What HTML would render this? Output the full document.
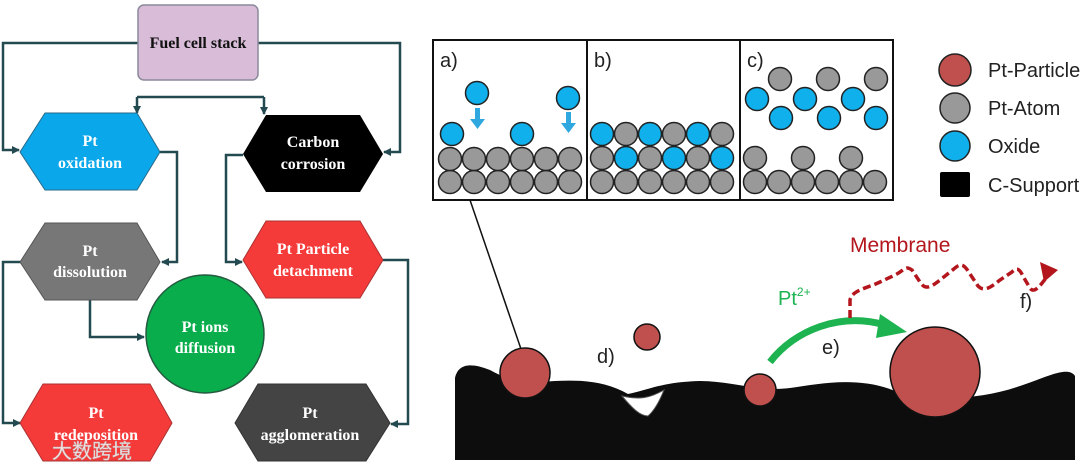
<!DOCTYPE html>
<html><head><meta charset="utf-8"><style>
html,body{margin:0;padding:0;background:#fff;}
svg{display:block}
.ft{font-family:"Liberation Serif",serif;font-weight:bold;font-size:16px;text-anchor:middle}
.st{font-family:"Liberation Sans",sans-serif;font-size:20px;fill:#222}
</style></head><body>
<svg width="1080" height="468" viewBox="0 0 1080 468" xmlns="http://www.w3.org/2000/svg">
<defs>
<marker id="ah" markerWidth="8" markerHeight="8" refX="7" refY="4" orient="auto" markerUnits="userSpaceOnUse"><path d="M0,0 L8,4 L0,8 Z" fill="#234a50"/></marker>
</defs>
<g stroke="#234a50" stroke-width="2.5" fill="none">
<path d="M138,43 H3 V150 H19" marker-end="url(#ah)"/>
<path d="M258,43 H400 V152 H384" marker-end="url(#ah)"/>
<path d="M137,97 H264"/>
<path d="M137,97 V113" marker-end="url(#ah)"/>
<path d="M264,97 V114" marker-end="url(#ah)"/>
<path d="M160,152 H177 V262 H162" marker-end="url(#ah)"/>
<path d="M243,155 H226 V262 H242" marker-end="url(#ah)"/>
<path d="M21,262 H3 V423 H20" marker-end="url(#ah)"/>
<path d="M90,300 V337 H144" marker-end="url(#ah)"/>
<path d="M383,260 H408 V424 H391" marker-end="url(#ah)"/>
</g>
<rect x="138" y="5" width="120" height="75" rx="6" fill="#d8bcd8" stroke="#8a8a9a" stroke-width="1.5"/>
<text x="198" y="48" class="ft" fill="#111">Fuel cell stack</text>
<polygon points="20,152 45,113 137,113 160,152 137,190 45,190" fill="#0aa7ea" stroke="#2a6a8a"/>
<text class="ft" fill="#fff" x="90" y="146">Pt</text><text class="ft" fill="#fff" x="90" y="168">oxidation</text>
<polygon points="243,154 266,115 360,115 383,154 360,192 266,192" fill="#000"/>
<text class="ft" fill="#fff" x="313" y="147">Carbon</text><text class="ft" fill="#fff" x="313" y="169">corrosion</text>
<polygon points="20,262 45,223 137,223 160,262 137,300 45,300" fill="#777" stroke="#555"/>
<text class="ft" fill="#fff" x="90" y="256">Pt</text><text class="ft" fill="#fff" x="90" y="277">dissolution</text>
<polygon points="243,260 266,221 360,221 383,260 360,298 266,298" fill="#f53a3a" stroke="#a33"/>
<text class="ft" fill="#fff" x="313" y="254">Pt Particle</text><text class="ft" fill="#fff" x="313" y="276">detachment</text>
<circle cx="205" cy="334" r="59" fill="#09ad4b" stroke="#245a40" stroke-width="1.5"/>
<text class="ft" fill="#fff" x="205" y="332">Pt ions</text><text class="ft" fill="#fff" x="205" y="353">diffusion</text>
<polygon points="20,423 43,384 150,384 172,423 150,461 43,461" fill="#f53a3a" stroke="#a33"/>
<text class="ft" fill="#fff" x="96" y="418">Pt</text><text class="ft" fill="#fff" x="96" y="440">redeposition</text>
<polygon points="235,423 258,384 366,384 390,423 366,461 258,461" fill="#444" stroke="#333"/>
<text class="ft" fill="#fff" x="310" y="418">Pt</text><text class="ft" fill="#fff" x="310" y="440">agglomeration</text>
<text x="52" y="458" font-family="Noto Sans CJK SC,sans-serif" font-size="20" fill="#fff" fill-opacity="0.85" stroke="#bbb" stroke-width="0.5">大数跨境</text>

<rect x="433" y="40" width="460" height="160" fill="#fff" stroke="#111" stroke-width="2"/>
<line x1="587" y1="40" x2="587" y2="200" stroke="#111" stroke-width="2"/>
<line x1="740" y1="40" x2="740" y2="200" stroke="#111" stroke-width="2"/>
<text class="st" x="440" y="67">a)</text><text class="st" x="594" y="67">b)</text><text class="st" x="747" y="67">c)</text>
<g stroke="#222" stroke-width="1.5">
<g fill="#999">
<circle cx="450" cy="182" r="11.5"/><circle cx="474" cy="182" r="11.5"/><circle cx="498" cy="182" r="11.5"/><circle cx="522" cy="182" r="11.5"/><circle cx="546" cy="182" r="11.5"/><circle cx="570" cy="182" r="11.5"/>
<circle cx="450" cy="159" r="11.5"/><circle cx="474" cy="159" r="11.5"/><circle cx="498" cy="159" r="11.5"/><circle cx="522" cy="159" r="11.5"/><circle cx="546" cy="159" r="11.5"/><circle cx="570" cy="159" r="11.5"/>
</g>
<g fill="#10b0ec">
<circle cx="452" cy="134" r="11.5"/><circle cx="522" cy="134" r="11.5"/><circle cx="477" cy="93" r="11.5"/><circle cx="568" cy="98" r="11.5"/>
</g>
<g fill="#999">
<circle cx="602" cy="182" r="11.5"/><circle cx="626" cy="182" r="11.5"/><circle cx="650" cy="182" r="11.5"/><circle cx="674" cy="182" r="11.5"/><circle cx="698" cy="182" r="11.5"/><circle cx="722" cy="182" r="11.5"/>
<circle cx="602" cy="158" r="11.5"/><circle cx="650" cy="158" r="11.5"/><circle cx="698" cy="158" r="11.5"/>
<circle cx="626" cy="134" r="11.5"/><circle cx="674" cy="134" r="11.5"/><circle cx="722" cy="134" r="11.5"/>
</g>
<g fill="#10b0ec">
<circle cx="626" cy="158" r="11.5"/><circle cx="674" cy="158" r="11.5"/><circle cx="722" cy="158" r="11.5"/>
<circle cx="602" cy="134" r="11.5"/><circle cx="650" cy="134" r="11.5"/><circle cx="698" cy="134" r="11.5"/>
</g>
<g fill="#999">
<circle cx="755" cy="182" r="11.5"/><circle cx="779" cy="182" r="11.5"/><circle cx="803" cy="182" r="11.5"/><circle cx="827" cy="182" r="11.5"/><circle cx="851" cy="182" r="11.5"/><circle cx="875" cy="182" r="11.5"/>
<circle cx="755" cy="158" r="11.5"/><circle cx="803" cy="158" r="11.5"/><circle cx="851" cy="158" r="11.5"/>
<circle cx="780" cy="79" r="11.5"/><circle cx="828" cy="79" r="11.5"/><circle cx="876" cy="79" r="11.5"/>
</g>
<g fill="#10b0ec">
<circle cx="757" cy="99" r="11.5"/><circle cx="805" cy="99" r="11.5"/><circle cx="853" cy="99" r="11.5"/>
<circle cx="781" cy="118" r="11.5"/><circle cx="829" cy="118" r="11.5"/><circle cx="876" cy="118" r="11.5"/>
</g>
</g>
<g fill="#2fa8e0">
<rect x="475" y="108" width="5" height="12"/><polygon points="470,119 485,119 477.5,129"/>
<rect x="566" y="112" width="5" height="12"/><polygon points="561,123 576,123 568.5,133"/>
</g>
<circle cx="955" cy="70" r="16" fill="#c0504d" stroke="#222" stroke-width="1.5"/>
<circle cx="955" cy="108" r="15" fill="#999" stroke="#222" stroke-width="1.5"/>
<circle cx="955" cy="146" r="15" fill="#10b0ec" stroke="#222" stroke-width="1.5"/>
<rect x="940" y="172" width="30" height="25" rx="2" fill="#000"/>
<text class="st" x="988" y="77" font-size="18">Pt-Particle</text><text class="st" x="988" y="115" font-size="18">Pt-Atom</text><text class="st" x="988" y="153" font-size="18">Oxide</text><text class="st" x="988" y="192" font-size="18">C-Support</text>

<line x1="470" y1="200" x2="522" y2="352" stroke="#111" stroke-width="1.5"/>
<path d="M455,378 C458,364 470,362 490,370 C505,378 515,383 540,382 C570,380 600,378 628,394 C648,390 662,382 700,381 C730,381 760,392 790,388 C820,384 860,375 900,393 C940,400 980,400 1020,386 C1045,378 1068,365 1075,376 L1075,460 L455,460 Z" fill="#0d0d0d"/>
<path d="M622,396 C632,408 640,416 648,416 C655,410 660,400 664,390 C650,398 640,400 622,396 Z" fill="#fff" stroke="#555" stroke-width="1"/>
<circle cx="525" cy="373" r="25" fill="#c0504d" stroke="#111" stroke-width="1.5"/>
<circle cx="647" cy="337" r="13" fill="#c0504d" stroke="#111" stroke-width="1.5"/>
<circle cx="760" cy="390" r="16" fill="#c0504d" stroke="#111" stroke-width="1.5"/>
<circle cx="935" cy="372" r="45" fill="#c0504d" stroke="#111" stroke-width="1.5"/>
<text class="st" x="597" y="363">d)</text>
<text class="st" x="822" y="354">e)</text>
<text class="st" x="1020" y="308">f)</text>
<path d="M770,362 C795,330 840,312 885,325" stroke="#1db350" stroke-width="7" fill="none"/>
<polygon points="880,314 907,332 876,338" fill="#1db350"/>
<text x="778" y="305" font-family="Liberation Sans,sans-serif" font-size="20" fill="#1db350">Pt<tspan font-size="12" dy="-9">2+</tspan></text>
<text x="850" y="252" font-family="Liberation Sans,sans-serif" font-size="21" fill="#b3161c">Membrane</text>
<path d="M850,318 V300 C852,290 868,288 880,282 L895,275 C905,270 905,265 912,270 L920,282 C925,290 930,288 940,280 L955,268 C962,262 965,266 970,274 L978,286 C984,292 990,288 1000,280 L1012,272 C1018,266 1020,270 1024,278 L1030,288 C1034,294 1040,286 1046,278" stroke="#b3161c" stroke-width="3.5" stroke-dasharray="8,4" fill="none"/>
<polygon points="1040,262 1058,270 1044,282" fill="#b3161c"/>
</svg>
</body></html>
